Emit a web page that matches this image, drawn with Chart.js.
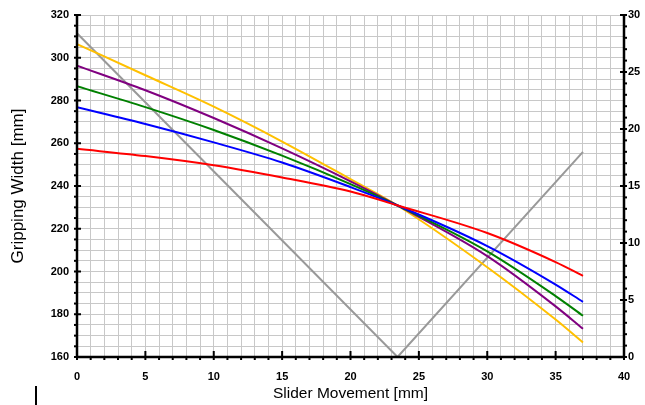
<!DOCTYPE html>
<html>
<head>
<meta charset="utf-8">
<script src="https://cdn.jsdelivr.net/npm/chart.js@4"></script>
<style>
  body { margin: 0; background: #fff; }
  #wrap { position: relative; width: 645px; height: 405px; }
  #cursor { position: absolute; left: 35px; top: 386px; width: 2px; height: 19px; background: #000; }
</style>
</head>
<body>
<div id="wrap">
  <canvas id="gripChart" width="645" height="405"></canvas>
  <div id="cursor"></div>
</div>
<script>
// slider positions where values were read
const sliderX = [0, 5, 10, 15, 20, 23.4, 30, 35, 37];

// gripping width curves [mm]
const redWidth = [257.4, 254.0, 249.7, 244.0, 237.4, 231, 218.0, 204.4, 198.0];
const blueWidth = [276.8, 269.0, 260.4, 251.0, 239.5, 231, 211.9, 193.9, 185.8];
const greenWidth = [286.7, 276.9, 266.2, 254.2, 240.9, 231, 209.4, 188.5, 179.3];
const purpleWidth = [296.3, 284.8, 271.8, 257.6, 242.2, 231, 207.2, 183.7, 173.2];
const yellowWidth = [306.4, 291.8, 277.1, 260.8, 243.2, 231, 202.0, 177.5, 166.8];

// gray line on right axis
const grayX = [0, 23.44, 37];
const grayY = [28.4, 0, 18];

const FONT = "'Liberation Sans', Arial, sans-serif";

function pts(xs, ys) {
  return xs.map((x, i) => ({ x: x, y: ys[i] }));
}

function curve(values, color) {
  return {
    data: pts(sliderX, values),
    borderColor: color,
    borderWidth: 2,
    pointRadius: 0,
    cubicInterpolationMode: "monotone",
    yAxisID: "y",
  };
}

// black axis lines and tick marks
const axisMarks = {
  id: "axisMarks",
  afterDatasetsDraw(chart) {
    const { ctx, chartArea: a, scales } = chart;
    const line = (x1, y1, x2, y2) => {
      ctx.beginPath();
      ctx.moveTo(x1, y1);
      ctx.lineTo(x2, y2);
      ctx.stroke();
    };
    ctx.save();
    ctx.strokeStyle = "#000";
    ctx.lineWidth = 2.5;
    line(a.left, a.top, a.left, a.bottom + 1);
    line(a.left - 1, a.bottom, a.right + 1, a.bottom);
    line(a.right, a.top, a.right, a.bottom + 1);

    ctx.lineWidth = 2;
    scales.x.ticks.forEach((t) => {
      const px = scales.x.getPixelForValue(t.value);
      const major = t.value % 5 === 0;
      line(px, major ? a.bottom - 6 : a.bottom, px, a.bottom + 3);
    });
    scales.y.ticks.forEach((t) => {
      const py = scales.y.getPixelForValue(t.value);
      const major = t.value % 20 === 0;
      line(a.left - 3, py, major ? a.left + 4 : a.left, py);
    });
    scales.y2.ticks.forEach((t) => {
      const py = scales.y2.getPixelForValue(t.value);
      const major = t.value % 5 === 0;
      line(major ? a.right - 4 : a.right, py, a.right + 3, py);
    });
    ctx.restore();
  },
};

new Chart(document.getElementById("gripChart"), {
  type: "line",
  data: {
    datasets: [
      curve(redWidth, "#ff0000"),
      curve(blueWidth, "#0000ff"),
      curve(greenWidth, "#008000"),
      curve(purpleWidth, "#800080"),
      curve(yellowWidth, "#ffc000"),
      {
        data: pts(grayX, grayY),
        borderColor: "#999999",
        borderWidth: 2,
        pointRadius: 0,
        tension: 0,
        yAxisID: "y2",
      },
    ],
  },
  options: {
    responsive: false,
    animation: false,
    layout: { padding: { top: 15, left: 0, right: 0, bottom: 0 } },
    plugins: {
      legend: { display: false },
      tooltip: { enabled: false },
    },
    scales: {
      x: {
        type: "linear",
        min: 0,
        max: 40,
        border: { display: false },
        grid: { color: "#c8c8c8", lineWidth: 1, drawTicks: false },
        ticks: {
          stepSize: 1,
          autoSkip: false,
          maxRotation: 0,
          padding: 13,
          color: "#000",
          font: { family: FONT, size: 11, weight: "bold" },
          callback: (v) => (v % 5 === 0 ? v : ""),
        },
        title: {
          display: true,
          text: "Slider Movement [mm]",
          color: "#000",
          padding: { top: 0, bottom: 2 },
          font: { family: FONT, size: 15.5 },
        },
        afterFit: (s) => { s.height = 48; },
      },
      y: {
        position: "left",
        min: 160,
        max: 320,
        border: { display: false },
        grid: { color: "#c8c8c8", lineWidth: 1, drawTicks: false },
        ticks: {
          stepSize: 5,
          autoSkip: false,
          padding: 8,
          color: "#000",
          font: { family: FONT, size: 11, weight: "bold" },
          callback: (v) => (v % 20 === 0 ? v : ""),
        },
        title: {
          display: true,
          text: "Gripping Width [mm]",
          color: "#000",
          padding: { top: 8, bottom: 0 },
          font: { family: FONT, size: 17 },
        },
        afterFit: (s) => { s.width = 77; },
      },
      y2: {
        position: "right",
        min: 0,
        max: 30,
        border: { display: false },
        grid: { display: false, drawOnChartArea: false, drawTicks: false },
        ticks: {
          stepSize: 1,
          autoSkip: false,
          padding: 4,
          color: "#000",
          font: { family: FONT, size: 11, weight: "bold" },
          callback: (v) => (v % 5 === 0 ? v : ""),
        },
        afterFit: (s) => { s.width = 21; },
      },
    },
  },
  plugins: [axisMarks],
});
</script>
</body>
</html>
